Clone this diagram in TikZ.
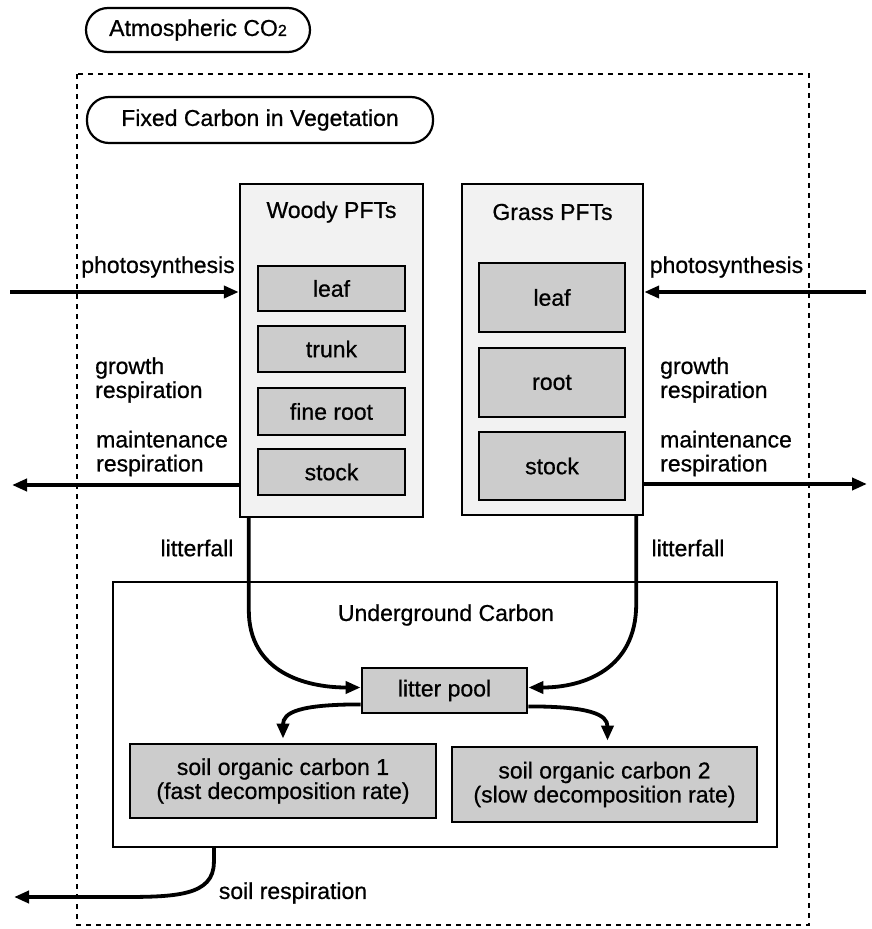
\documentclass[tikz,border=0pt]{standalone}
\usepackage{fontspec}
\setmainfont[FakeBold=0.7]{Liberation Sans}
\usetikzlibrary{arrows.meta}
\begin{document}
\begin{tikzpicture}[x=1pt,y=-1pt,
  every node/.style={font=\fontsize{23}{24}\selectfont},
  title/.style={draw, line width=2.2pt, rounded corners=22pt, inner sep=0},
  pft/.style={draw, line width=2.4pt, fill=black!5, inner sep=0},
  pool/.style={draw, line width=2.8pt, fill=black!20, inner sep=0, align=center},
  lbl/.style={inner sep=0, align=left},
  flow/.style={line width=3.8pt, -{Triangle[length=15pt,width=12pt]}},
  border/.style={line width=2.4pt, dash pattern=on 5pt off 5pt}
]
\useasboundingbox (0,0) rectangle (871,929);

% outer dashed region
\draw[border] (77,74) rectangle (809,925);

% titles
\node[title, minimum width=224pt, minimum height=44pt] (atm) at (198,30)
  {Atmospheric CO{\fontsize{16}{16}\selectfont 2}};
\node[title, minimum width=346pt, minimum height=46pt] (fixed) at (260,120)
  {Fixed Carbon in Vegetation};

% Woody PFTs
\node[pft, minimum width=183pt, minimum height=333pt] (woody) at (331.5,350.5) {};
\node[inner sep=0] (woodyt) at (331.5,212) {Woody PFTs};
\node[pool, minimum width=147pt, minimum height=45pt] (wleaf) at (331.5,288.5) {leaf};
\node[pool, minimum width=147pt, minimum height=46pt] (wtrunk) at (331.5,349) {trunk};
\node[pool, minimum width=147pt, minimum height=47pt] (wroot) at (331.5,411.5) {fine root};
\node[pool, minimum width=147pt, minimum height=46pt] (wstock) at (331.5,472) {stock};

% Grass PFTs
\node[pft, minimum width=181pt, minimum height=331pt] (grass) at (552.5,349.5) {};
\node[inner sep=0] (grasst) at (552.5,212) {Grass PFTs};
\node[pool, minimum width=146pt, minimum height=69pt] (gleaf) at (552,297.5) {leaf};
\node[pool, minimum width=146pt, minimum height=69pt] (groot) at (552,382.5) {root};
\node[pool, minimum width=146pt, minimum height=68pt] (gstock) at (552,466) {stock};

% Underground
\node[draw, line width=2.2pt, fill=white, minimum width=664pt, minimum height=265pt, inner sep=0] (ug) at (445,714.5) {};
\node[inner sep=0] (ugt) at (446,615) {Underground Carbon};
\node[pool, minimum width=165pt, minimum height=45pt] (lp) at (444.5,690.5) {litter pool};
\node[pool, minimum width=306pt, minimum height=74pt] (soc1) at (283,781)
  {soil organic carbon 1\\(fast decomposition rate)};
\node[pool, minimum width=305pt, minimum height=75pt] (soc2) at (604.5,784.5)
  {soil organic carbon 2\\(slow decomposition rate)};

% labels
\node[lbl] (psll) at (158,267) {photosynthesis};
\node[lbl] (pslr) at (726.5,267) {photosynthesis};
\node[lbl, anchor=west] (grl) at (95,380) {growth\\respiration};
\node[lbl, anchor=west] (mrlb) at (96,453.5) {maintenance\\respiration};
\node[lbl, anchor=west] (grr) at (660,380) {growth\\respiration};
\node[lbl, anchor=west] (mrrb) at (660,453.5) {maintenance\\respiration};
\node[lbl] (lfl) at (197,548) {litterfall};
\node[lbl] (lfr) at (688,548) {litterfall};
\node[lbl] (srl) at (293,893) {soil respiration};

% free ends
\coordinate (psl) at (10,292);
\coordinate (psr) at (866,292);
\coordinate (mrl) at (12,485);
\coordinate (mrr) at (867,484);
\coordinate (srend) at (14,897);

% connectors
\draw[flow] (psl) -- (psl -| woody.west);
\draw[flow] (psr) -- (psr -| grass.east);
\draw[flow] (mrl -| woody.west) -- (mrl);
\draw[flow] (mrr -| grass.east) -- (mrr);

\draw[flow] ([xshift=10pt]woody.south west) -- ++(0,92)
  .. controls +(0,62) and +(-55,0) .. ([yshift=3pt]lp.west);
\draw[flow] ([xshift=-8pt]grass.south east) -- ++(0,88)
  .. controls +(0,65) and +(55,0) .. ([yshift=3pt]lp.east);

\draw[flow] ([yshift=10pt]lp.south west)
  .. controls +(-62,0) and +(0,-26) .. ([yshift=4pt]soc1.north);
\draw[flow] ([yshift=8pt]lp.south east)
  .. controls +(62,0) and +(0,-26) .. ([xshift=3pt,yshift=5pt]soc2.north);

\draw[flow] ([xshift=102pt]ug.south west) -- ++(0,14)
  .. controls +(0,34) and +(55,0) .. (120,897) -- (srend);
\end{tikzpicture}
\end{document}
